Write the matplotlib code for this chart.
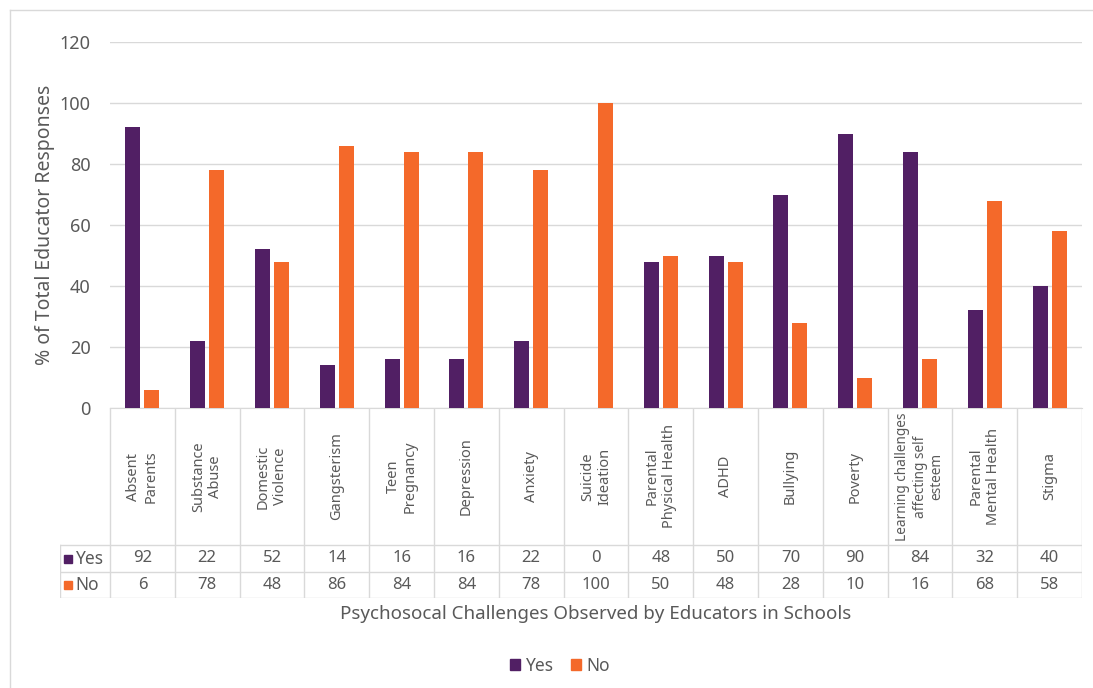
import numpy as np
import matplotlib.pyplot as plt
from matplotlib.lines import Line2D
from matplotlib.patches import Rectangle

plt.rcParams['font.family'] = ['Noto Sans', 'DejaVu Sans']

categories = ["Absent\nParents", "Substance\nAbuse", "Domestic\nViolence", "Gangsterism",
              "Teen\nPregnancy", "Depression", "Anxiety", "Suicide\nIdeation",
              "Parental\nPhysical Health", "ADHD", "Bullying", "Poverty",
              "Learning challenges\naffecting self\nesteem", "Parental\nMental Health", "Stigma"]
yes_vals = [92, 22, 52, 14, 16, 16, 22, 0, 48, 50, 70, 90, 84, 32, 40]
no_vals = [6, 78, 48, 86, 84, 84, 78, 100, 50, 48, 28, 10, 16, 68, 58]
series_names = ["Yes", "No"]

purple = "#511F64"
orange = "#F4692A"
grid_c = "#D9D9D9"
text_c = "#595959"

W, H = 1093, 688
fig = plt.figure(figsize=(W / 100, H / 100), dpi=100)


def fx(px):
    return px / W


def fy(py):
    return 1 - py / H


# outer chart border (only left and top edges show in the image)
fig.add_artist(Line2D([fx(10), fx(10)], [fy(10), 0], transform=fig.transFigure, color=grid_c, lw=1))
fig.add_artist(Line2D([fx(10), 1], [fy(10), fy(10)], transform=fig.transFigure, color=grid_c, lw=1))

L, R, T, B = 110, 1082, 42, 408
ax = fig.add_axes([fx(L), fy(B), fx(R) - fx(L), fy(T) - fy(B)])
n = len(categories)
x = np.arange(n) + 0.5
bw = 0.23
off = 0.147
ax.bar(x - off, yes_vals, bw, color=purple, zorder=3)
ax.bar(x + off, no_vals, bw, color=orange, zorder=3)
ax.set_xlim(0, n)
ax.set_ylim(0, 120)
ax.set_yticks(range(0, 121, 20))
ax.yaxis.grid(True, color=grid_c, lw=1)
ax.set_axisbelow(True)
for s in ["top", "right", "left"]:
    ax.spines[s].set_visible(False)
ax.spines["bottom"].set_color(grid_c)
ax.tick_params(axis='y', length=0, pad=14, labelsize=13, labelcolor=text_c)
ax.tick_params(axis='x', length=0, labelbottom=False)
ax.set_ylabel("% of Total Educator Responses", fontsize=14, color=text_c, labelpad=3)

# data table
TL, TB = 60, 598
tab = fig.add_axes([fx(TL), fy(TB), fx(R) - fx(TL), fy(B) - fy(TB)])
tab.set_xlim(TL, R)
tab.set_ylim(TB, B)
tab.axis("off")
cw = (R - L) / n
y_rows = [545, 572, 598]
lk = dict(color=grid_c, lw=1)
for k in range(n + 1):
    xx = L + k * cw
    tab.plot([xx, xx], [B, TB], **lk)
tab.plot([TL, TL], [545, TB], **lk)
for yy in y_rows:
    tab.plot([TL, R], [yy, yy], **lk)

for i, c in enumerate(categories):
    cx = L + (i + 0.5) * cw
    fs = 10.5 if c.count("\n") < 2 else 9.8
    tab.text(cx, (B + 545) / 2, c, rotation=90, ha="center", va="center",
             fontsize=fs, color=text_c, linespacing=1.2, multialignment="center")
    tab.text(cx, (545 + 572) / 2, str(yes_vals[i]), ha="center", va="center",
             fontsize=12, color=text_c)
    tab.text(cx, (572 + 598) / 2, str(no_vals[i]), ha="center", va="center",
             fontsize=12, color=text_c)

for j, (name, col) in enumerate(zip(series_names, [purple, orange])):
    yc = (y_rows[j] + y_rows[j + 1]) / 2
    tab.add_patch(Rectangle((64, yc - 4), 8, 8, color=col))
    tab.text(75, yc, name, ha="left", va="center", fontsize=12.5, color=text_c)

fig.text(fx(596), fy(614), "Psychosocal Challenges Observed by Educators in Schools",
         ha="center", va="center", fontsize=13.5, color=text_c)

handles = [Rectangle((0, 0), 1, 1, color=purple), Rectangle((0, 0), 1, 1, color=orange)]
fig.legend(handles, series_names, loc="center", bbox_to_anchor=(fx(560), fy(666)),
           ncol=2, frameon=False, fontsize=12.5, handlelength=0.6, handleheight=0.6,
           handletextpad=0.3, columnspacing=1.0, labelcolor=text_c)

fig.savefig("out.png", dpi=100)
